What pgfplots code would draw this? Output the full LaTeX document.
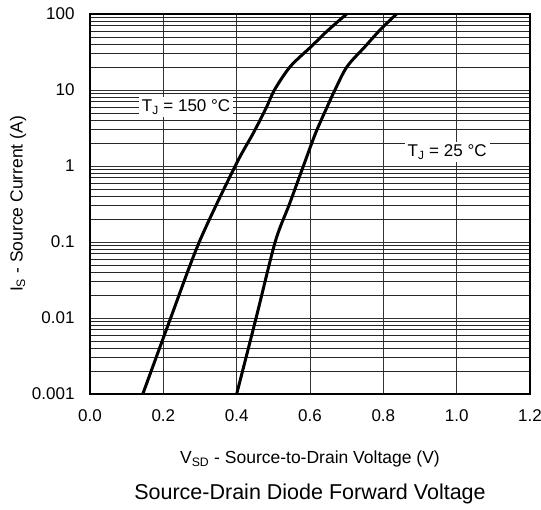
\documentclass[border=0pt]{standalone}
\usepackage{pgfplots}
\pgfplotsset{compat=1.18}
\usepackage{fontspec}
\setmainfont{Liberation Sans}

\begin{document}
\begin{tikzpicture}
\useasboundingbox (-90pt,-116pt) rectangle (451pt,394pt);
\begin{axis}[
    scale only axis,
    width=440pt, height=380pt,
    at={(0,0)}, anchor=south west,
    xmin=0, xmax=1.2,
    ymode=log, ymin=0.001, ymax=100,
    xtick={0,0.2,0.4,0.6,0.8,1.0,1.2},
    xticklabel style={/pgf/number format/.cd, fixed, fixed zerofill, precision=1},
    ytick={0.001,0.01,0.1,1,10,100},
    yticklabels={0.001,0.01,0.1,1,10,100},
    /pgf/number format/assume math mode=true,
    tick label style={font=\fontsize{17}{19}\selectfont},
    major tick length=0pt, minor tick length=0pt,
    xtick pos=bottom, ytick pos=left,
    xticklabel shift=12pt, yticklabel shift=12pt,
    grid=both,
    major grid style={black!80, line width=0.7pt},
    minor grid style={black!85, line width=0.6pt},
    axis line style={line width=1.6pt},
    xlabel={V\textsubscript{SD} - Source-to-Drain Voltage (V)},
    ylabel={I\textsubscript{S} - Source Current (A)},
    label style={font=\fontsize{17.5}{19}\selectfont},
    xlabel style={at={(0.5,0)}, anchor=center, yshift=-65pt},
    ylabel style={at={(0,0.5)}, anchor=center, xshift=0pt, yshift=72pt},
]
% TJ = 150 C
\addplot[black, line width=3pt, smooth, tension=0.5] coordinates {
    (0.144,0.001) (0.220,0.01) (0.298,0.1) (0.396,1) (0.445,2.69)
    (0.480,5.74) (0.503,10) (0.546,20.3) (0.603,37.2) (0.650,61.6)
    (0.700,100)
};
% TJ = 25 C
\addplot[black, line width=3pt, smooth, tension=0.5] coordinates {
    (0.400,0.001) (0.453,0.01) (0.505,0.1) (0.544,0.316) (0.582,1)
    (0.615,2.69) (0.645,5.74) (0.668,10) (0.701,20.3) (0.750,37.2)
    (0.791,61.6) (0.836,100)
};
\node[fill=white, inner sep=3pt, font=\fontsize{17}{19}\selectfont] at (axis cs:0.262,5.97) {T\textsubscript{J} = 150 °C};
\node[fill=white, inner sep=3pt, font=\fontsize{17}{19}\selectfont] at (axis cs:0.974,1.53) {T\textsubscript{J} = 25 °C};
\end{axis}
\node[font=\fontsize{21.5}{24}\selectfont] at (220pt,-100pt) {Source-Drain Diode Forward Voltage};
\end{tikzpicture}
\end{document}
